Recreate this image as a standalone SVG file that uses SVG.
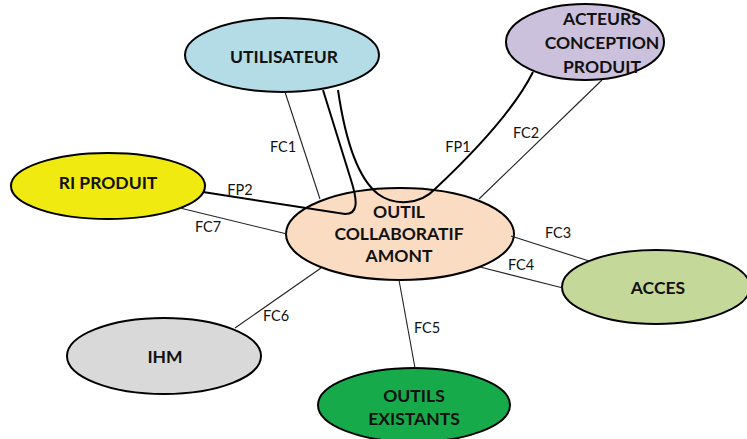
<svg xmlns="http://www.w3.org/2000/svg" width="747" height="439" viewBox="0 0 747 439">
<style>
.n{stroke:#000;stroke-width:2}
.t{font-family:Lato,"Liberation Sans",sans-serif;font-weight:bold;font-size:17.5px;fill:#111;text-anchor:middle}
.l{font-family:Lato,"Liberation Sans",sans-serif;font-size:14.5px;fill:#111;text-anchor:middle}
.c{stroke:#222;stroke-width:1.1;fill:none}
.p{stroke:#000;stroke-width:2;fill:none}
</style>
<rect width="747" height="439" fill="#fff"/>
<g id="utilisateur"><ellipse class="n" cx="282" cy="55" rx="97" ry="37" fill="#B3DCE6"/><text class="t" x="284" y="63">UTILISATEUR</text></g>
<g id="acteurs"><ellipse class="n" cx="585" cy="42" rx="79" ry="38" fill="#CCC1DC"/><text class="t" x="602" y="25">ACTEURS</text><text class="t" x="602" y="49">CONCEPTION</text><text class="t" x="602" y="73">PRODUIT</text></g>
<g id="ri-produit"><ellipse class="n" cx="108" cy="186" rx="97" ry="33" fill="#F0EA10"/><text class="t" x="108" y="189">RI PRODUIT</text></g>
<g id="outil"><ellipse class="n" cx="400" cy="234" rx="114" ry="46" fill="#FADCC2"/><text class="t" x="399" y="218">OUTIL</text><text class="t" x="399" y="240">COLLABORATIF</text><text class="t" x="399" y="262">AMONT</text></g>
<g id="acces"><ellipse class="n" cx="656" cy="287" rx="94" ry="37" fill="#C4D89A"/><text class="t" x="658" y="294">ACCES</text></g>
<g id="ihm"><ellipse class="n" cx="164" cy="356" rx="97" ry="38" fill="#D9D9D9"/><text class="t" x="165" y="363">IHM</text></g>
<g id="outils-existants"><ellipse class="n" cx="414" cy="405" rx="96" ry="37" fill="#17AA4A"/><text class="t" x="414" y="402">OUTILS</text><text class="t" x="414" y="425">EXISTANTS</text></g>
<g id="connectors">
<line class="c" x1="285" y1="92" x2="320" y2="199"/>
<line class="c" x1="602" y1="80" x2="479" y2="199"/>
<line class="c" x1="180" y1="208" x2="287" y2="234"/>
<line class="c" x1="511" y1="236" x2="589" y2="261"/>
<line class="c" x1="480" y1="267" x2="563" y2="288"/>
<line class="c" x1="399" y1="280" x2="415" y2="368"/>
<line class="c" x1="235" y1="328" x2="321" y2="268"/>
<path class="p" d="M323,90 L351,180 C358,202 358,214 345,214 L203,192"/>
<path class="p" d="M338,90 C346,145 360,180 378,194 C394,206 420,205 435,189 C468,158 513,112 533,72"/>
<text class="l" x="283" y="152">FC1</text>
<text class="l" x="526" y="138">FC2</text>
<text class="l" x="458" y="152">FP1</text>
<text class="l" x="240" y="195">FP2</text>
<text class="l" x="208" y="232">FC7</text>
<text class="l" x="558" y="238">FC3</text>
<text class="l" x="521" y="270">FC4</text>
<text class="l" x="427" y="333">FC5</text>
<text class="l" x="276" y="321">FC6</text>
</g>
</svg>
